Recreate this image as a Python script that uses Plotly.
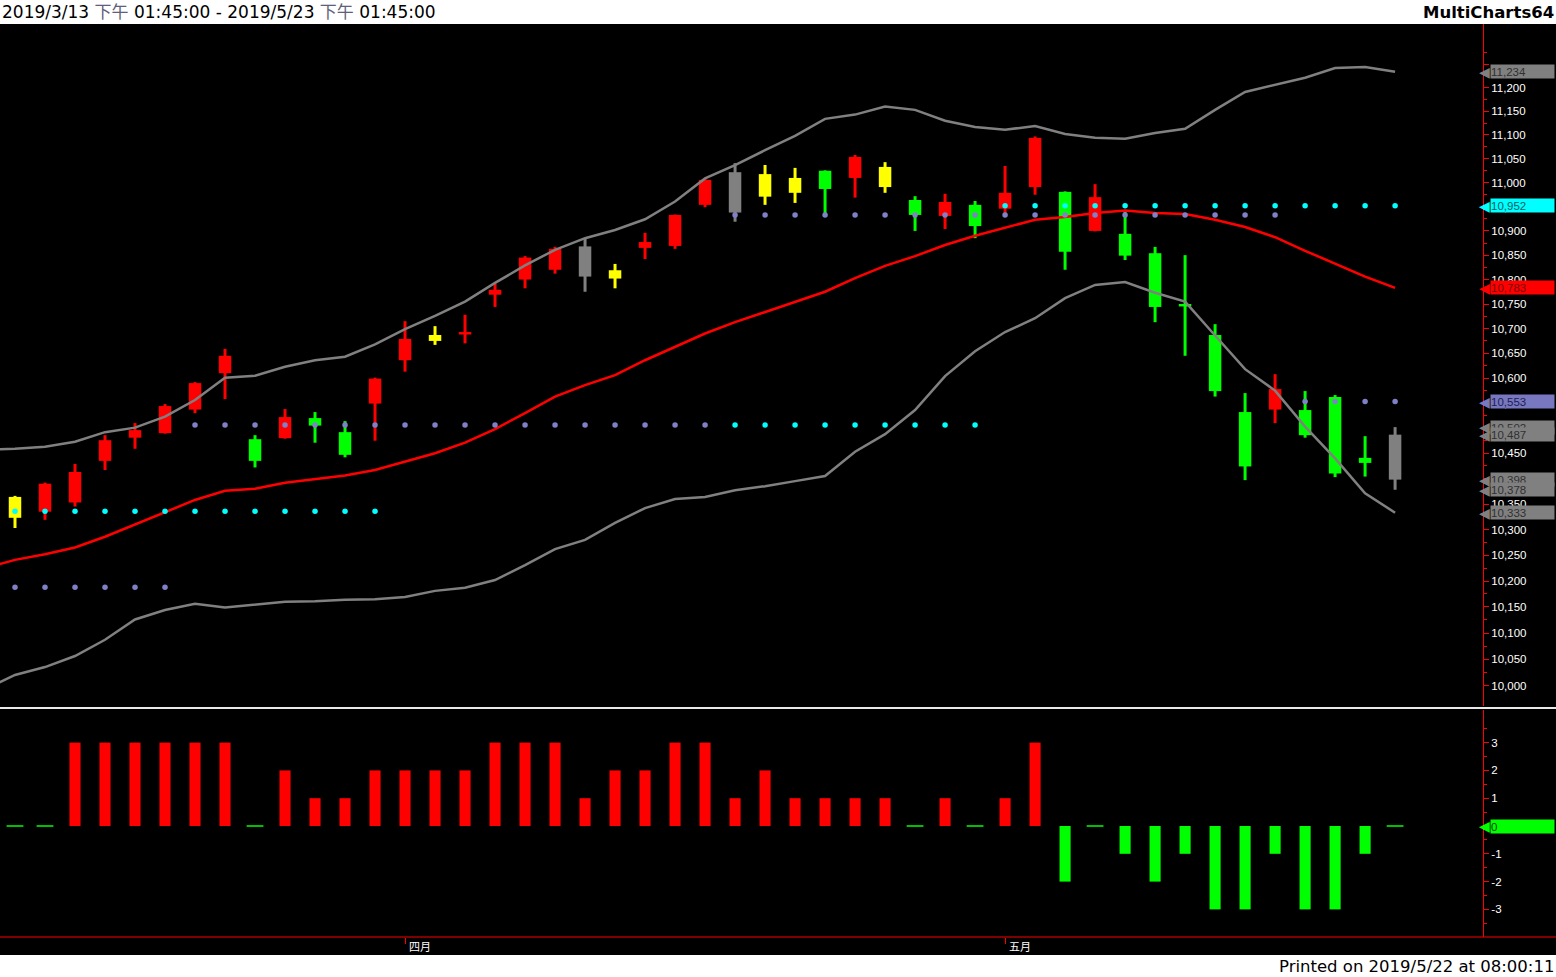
import math
import plotly.graph_objects as go

# ---------------- data ----------------
prev_date = "2019/3/12"
dates = ["2019/3/13", "2019/3/14", "2019/3/15", "2019/3/18", "2019/3/19", "2019/3/20", "2019/3/21",
         "2019/3/22", "2019/3/25", "2019/3/26", "2019/3/27", "2019/3/28", "2019/3/29",
         "2019/4/1", "2019/4/2", "2019/4/3", "2019/4/8", "2019/4/9", "2019/4/10", "2019/4/11",
         "2019/4/12", "2019/4/15", "2019/4/16", "2019/4/17", "2019/4/18", "2019/4/19", "2019/4/22",
         "2019/4/23", "2019/4/24", "2019/4/25", "2019/4/26", "2019/4/29", "2019/4/30",
         "2019/5/2", "2019/5/3", "2019/5/6", "2019/5/7", "2019/5/8", "2019/5/9", "2019/5/10",
         "2019/5/13", "2019/5/14", "2019/5/15", "2019/5/16", "2019/5/17", "2019/5/20", "2019/5/21"]

opens = [10323, 10335, 10353, 10435, 10481, 10490, 10537, 10610, 10478, 10480, 10520, 10492, 10549,
         10636, 10675, 10688, 10769, 10800, 10820, 10868, 10802, 10865, 10869, 10954, 11022, 10971,
         10979, 11025, 11010, 10991, 10964, 10931, 10954, 10946, 10991, 10981, 10900, 10894, 10854,
         10750, 10687, 10532, 10537, 10536, 10562, 10441, 10487]
highs = [10366, 10392, 10429, 10486, 10510, 10548, 10592, 10659, 10486, 10538, 10532, 10514, 10601,
         10715, 10705, 10728, 10792, 10848, 10867, 10885, 10832, 10896, 10934, 11009, 11041, 11037,
         11031, 11026, 11058, 11043, 10972, 10977, 10962, 11035, 11097, 10982, 10997, 10939, 10867,
         10850, 10709, 10570, 10608, 10574, 10566, 10484, 10502]
lows = [10303, 10319, 10345, 10417, 10459, 10489, 10530, 10558, 10422, 10479, 10471, 10442, 10475,
        10613, 10667, 10670, 10744, 10782, 10812, 10775, 10782, 10842, 10863, 10949, 10919, 10954,
        10958, 10929, 10969, 10979, 10900, 10904, 10885, 10937, 10975, 10820, 10899, 10840, 10713,
        10645, 10563, 10397, 10510, 10481, 10403, 10404, 10378]
closes = [10364, 10390, 10413, 10476, 10496, 10544, 10590, 10645, 10435, 10522, 10505, 10447, 10599,
          10679, 10687, 10693, 10779, 10845, 10863, 10806, 10819, 10877, 10933, 11006, 10938, 11018,
          11010, 10987, 11054, 11033, 10933, 10960, 10910, 10979, 11094, 10857, 10970, 10849, 10744,
          10745, 10574, 10424, 10578, 10486, 10410, 10431, 10398]
# candle paint class: r = up, g = down, y = yellow, k = gray
kinds = ["y", "r", "r", "r", "r", "r", "r", "r", "g", "r", "g", "g", "r",
         "r", "y", "r", "r", "r", "r", "k", "y", "r", "r", "r", "k", "y", "y", "g", "r", "y", "g", "r", "g",
         "r", "r", "g", "r", "g", "g", "g", "g", "g", "r", "g", "g", "g", "k"]

# Bollinger bands (first value belongs to prev_date)
upper = [10457, 10459, 10463, 10473, 10492, 10501, 10523, 10556, 10601, 10605, 10623, 10636, 10643,
         10668, 10699, 10726, 10755, 10793, 10829, 10861, 10885, 10902, 10924, 10961, 11009, 11037,
         11068, 11098, 11134, 11143, 11160, 11153, 11130, 11117, 11111, 11119, 11102, 11094, 11092,
         11104, 11113, 11153, 11191, 11206, 11221, 11242, 11244, 11234]
middle = [10225, 10241, 10252, 10265, 10286, 10310, 10333, 10358, 10376, 10380, 10392, 10399, 10406,
          10417, 10434, 10450, 10471, 10498, 10530, 10563, 10586, 10606, 10636, 10663, 10690, 10713,
          10734, 10754, 10775, 10803, 10828, 10848, 10871, 10890, 10906, 10923, 10929, 10937, 10942,
          10937, 10935, 10923, 10908, 10887, 10859, 10832, 10806, 10783]
lower = [9993, 10020, 10035, 10056, 10087, 10126, 10144, 10156, 10149, 10155, 10160, 10161, 10164,
         10165, 10169, 10181, 10187, 10202, 10231, 10262, 10280, 10313, 10342, 10360, 10364, 10377,
         10385, 10395, 10405, 10453, 10488, 10536, 10604, 10654, 10693, 10721, 10762, 10789, 10795,
         10773, 10755, 10686, 10618, 10575, 10503, 10440, 10371, 10333]

N = None
cyan_level = [10336] * 13 + [N] * 11 + [10506] * 9 + [10952] * 14
purple_level = [10188] * 6 + [10506] * 18 + [10933] * 19 + [10553] * 4

signal = [0, 0, 3, 3, 3, 3, 3, 3, 0, 2, 1, 1, 2, 2, 2, 2, 3, 3, 3, 1, 2, 2, 3, 3, 1, 2, 1, 1, 1, 1,
          0, 1, 0, 1, 3, -2, 0, -1, -2, -1, -3, -3, -1, -3, -3, -1, 0]

month_labels = ["四月", "五月"]
month_starts = ["2019/4/1", "2019/5/2"]

price_ticks = list(range(10000, 11251, 50))
price_minor = list(range(10025, 11300, 50))
sig_ticks = [-3, -2, -1, 0, 1, 2, 3]
sig_minor = [-3.5, -2.5, -1.5, -0.5, 0.5, 1.5, 2.5, 3.5]

# ---------------- layout helpers ----------------
W, H = 1556, 977


def py(px):
    return 1 - px / H


AXX = 1483 / W
COL = {"r": "#FF0000", "g": "#00FF00", "y": "#FFFF00", "k": "#808080"}
CYAN = "#00FFFF"
PURPLE = "#8080C8"
GRAY = "#808080"

cats = [prev_date] + dates
fig = go.Figure()

# candles
for k, col in COL.items():
    wx, wy, bx, by = [], [], [], []
    for d, o, h, l, c, kk in zip(dates, opens, highs, lows, closes, kinds):
        if kk != k:
            continue
        wx += [d, d, None]
        wy += [l, h, None]
        bx += [d, d, None]
        by += [min(o, c), max(o, c), None]
    fig.add_trace(go.Scatter(x=wx, y=wy, mode="lines", line=dict(color=col, width=3),
                             xaxis="x", yaxis="y", hoverinfo="skip", showlegend=False))
    fig.add_trace(go.Scatter(x=bx, y=by, mode="lines", line=dict(color=col, width=12.5),
                             xaxis="x", yaxis="y", hoverinfo="skip", showlegend=False))

# bands
for vals, col in ((upper, GRAY), (lower, GRAY), (middle, "#FF0000")):
    fig.add_trace(go.Scatter(x=cats, y=vals, mode="lines", line=dict(color=col, width=2.5),
                             xaxis="x", yaxis="y", hoverinfo="skip", showlegend=False))

# dot levels
for vals, col in ((purple_level, PURPLE), (cyan_level, CYAN)):
    fig.add_trace(go.Scatter(x=dates, y=vals, mode="markers", marker=dict(color=col, size=5.5),
                             xaxis="x", yaxis="y", hoverinfo="skip", showlegend=False))

# lower pane
fig.add_trace(go.Bar(x=dates, y=[s if s != 0 else None for s in signal],
                     marker=dict(color=["#FF0000" if s > 0 else "#00FF00" for s in signal], line=dict(width=0)),
                     width=0.37, xaxis="x2", yaxis="y2", hoverinfo="skip", showlegend=False))
zero_d = [d for d, s in zip(dates, signal) if s == 0]
fig.add_trace(go.Scatter(x=zero_d, y=[0] * len(zero_d), mode="markers",
                         marker=dict(symbol="line-ew", size=12, line=dict(color="#00FF00", width=1.5)),
                         xaxis="x2", yaxis="y2", hoverinfo="skip", showlegend=False))

# ---------------- axes ----------------
xr = [0.5, 49.93]
tickfont = dict(family="Liberation Sans, Arial, sans-serif", size=11.5, color="#FFFFFF")
common_x = dict(type="category", categoryorder="array", categoryarray=cats, range=xr,
                domain=[0, AXX], showgrid=False, zeroline=False, showline=False, fixedrange=True)

r0 = math.log10(9961.2)
r1 = r0 + 682 / (5275 * math.log(10))

fig.update_layout(
    width=W, height=H,
    margin=dict(l=0, r=0, t=0, b=0),
    paper_bgcolor="#000000", plot_bgcolor="#000000",
    showlegend=False, hovermode=False, barmode="overlay",
    xaxis=dict(common_x, anchor="y", showticklabels=False, ticks=""),
    xaxis2=dict(common_x, anchor="y2", showticklabels=False, ticks="outside", tickvals=month_starts,
                ticklen=6, tickcolor="#FF0000", tickwidth=1),
    yaxis=dict(type="log", domain=[py(706), py(24)], range=[r0, r1], side="right", anchor="x",
               showline=True, linecolor="#FF0000", linewidth=1, ticks="outside", ticklen=5,
               tickcolor="#FF0000", tickwidth=1, tickmode="array", tickvals=price_ticks,
               ticktext=[f"{v:,}" if v <= 11200 else "" for v in price_ticks],
               tickfont=tickfont, showgrid=False, zeroline=False, fixedrange=True,
               minor=dict(tickmode="array", tickvals=price_minor, ticks="outside", ticklen=3,
                          tickcolor="#FF0000", showgrid=False)),
    yaxis2=dict(domain=[py(937), py(710)], range=[-3.993, 4.173], side="right", anchor="x2",
                showline=True, linecolor="#FF0000", linewidth=1, ticks="outside", ticklen=5,
                tickcolor="#FF0000", tickwidth=1, tickmode="array", tickvals=sig_ticks,
                ticktext=[str(v) for v in sig_ticks], tickfont=tickfont, showgrid=False,
                zeroline=False, fixedrange=True,
                minor=dict(tickmode="array", tickvals=sig_minor, ticks="outside", ticklen=3,
                           tickcolor="#FF0000", showgrid=False)),
)

shapes = [
    dict(type="rect", xref="paper", yref="paper", x0=0, x1=1, y0=py(24), y1=1,
         fillcolor="#FFFFFF", line=dict(width=0), layer="above"),
    dict(type="rect", xref="paper", yref="paper", x0=0, x1=1, y0=0, y1=py(955),
         fillcolor="#FFFFFF", line=dict(width=0), layer="above"),
    dict(type="line", xref="paper", yref="paper", x0=0, x1=1, y0=py(708), y1=py(708),
         line=dict(color="#E8E8E8", width=2), layer="above"),
    dict(type="line", xref="paper", yref="paper", x0=0, x1=1, y0=py(937), y1=py(937),
         line=dict(color="#FF0000", width=1), layer="above"),
]
fig.update_layout(shapes=shapes)

ann = []
gray_sp = "<span style='color:#60607a'>下午</span>"
ann.append(dict(xref="paper", yref="paper", x=0, y=py(12), xanchor="left", yanchor="middle",
                showarrow=False, text=f"2019/3/13 {gray_sp} 01:45:00 - 2019/5/23 {gray_sp} 01:45:00",
                font=dict(family="DejaVu Sans, Noto Sans CJK TC", size=17, color="#000000")))
ann.append(dict(xref="paper", yref="paper", x=1, y=py(12), xanchor="right", yanchor="middle",
                showarrow=False, text="<b>MultiCharts64</b>",
                font=dict(family="DejaVu Sans", size=16.5, color="#000000")))
ann.append(dict(xref="paper", yref="paper", x=1, y=py(966), xanchor="right", yanchor="middle",
                showarrow=False, text="Printed on 2019/5/22 at 08:00:11",
                font=dict(family="DejaVu Sans", size=16.5, color="#000000")))
for lab, d in zip(month_labels, month_starts):
    ann.append(dict(xref="x2", yref="paper", x=d, y=py(946), xanchor="left", yanchor="middle",
                    xshift=2, showarrow=False, text=lab,
                    font=dict(family="Noto Sans CJK TC", size=11, color="#FFFFFF")))


def tag(yref, yval, value_text, bg, fg):
    ann.append(dict(xref="paper", x=1490 / W, xanchor="left", yref=yref, y=yval, yanchor="middle",
                    text=value_text, showarrow=False, bgcolor=bg, width=63, height=13,
                    align="left", borderpad=0,
                    font=dict(family="Liberation Sans, Arial", size=11.5, color=fg)))
    ann.append(dict(xref="paper", x=1491 / W, xanchor="right", yref=yref, y=yval, yanchor="middle",
                    text="◀", showarrow=False, borderpad=0,
                    font=dict(family="DejaVu Sans", size=14, color=bg)))


main_tags = [
    (upper[-1], GRAY, "#303030"),
    (cyan_level[-1], CYAN, "#005f5f"),
    (middle[-1], "#FF0000", "#7a0000"),
    (purple_level[-1], "#7878C0", "#202050"),
    (highs[-1], GRAY, "#303030"),
    (opens[-1], GRAY, "#303030"),
    (closes[-1], GRAY, "#303030"),
    (lows[-1], GRAY, "#303030"),
    (lower[-1], GRAY, "#303030"),
]
for v, bg, fg in main_tags:
    tag("y", math.log10(v), f"{v:,}", bg, fg)
tag("y2", signal[-1], str(signal[-1]), "#00FF00", "#004000")

fig.update_layout(annotations=ann)

fig.write_html("out.html", config={"displayModeBar": False},
               post_script="document.body.style.margin='0';document.body.style.overflow='hidden';")
